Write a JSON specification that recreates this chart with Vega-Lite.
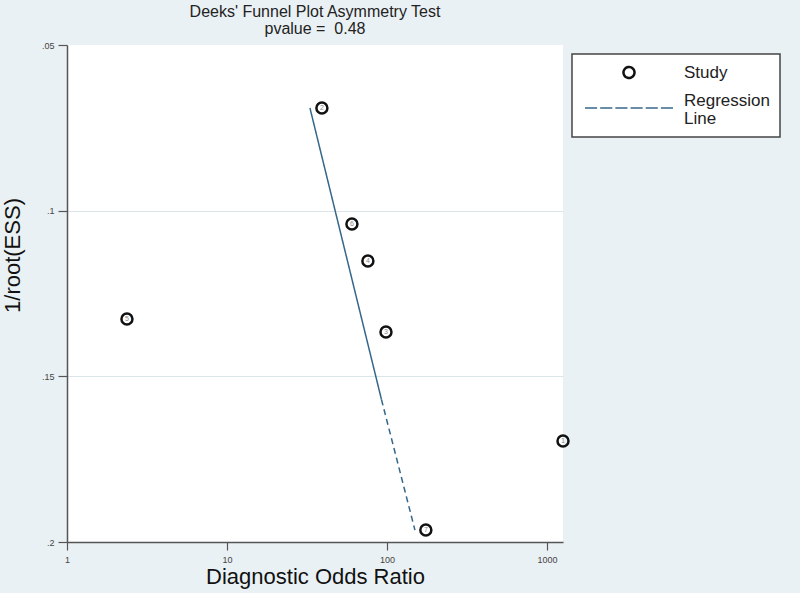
{
  "$schema": "https://vega.github.io/schema/vega-lite/v6.json",
  "width": 496,
  "height": 497,
  "autosize": {"type": "none"},
  "padding": {"left": 67, "top": 45, "right": 237, "bottom": 51},
  "background": "#eaf1f4",
  "view": {"fill": "white", "stroke": null},
  "config": {
    "font": "Liberation Sans",
    "legend": {
      "orient": "none",
      "legendX": 505,
      "legendY": 9,
      "title": null,
      "strokeColor": "#444444",
      "strokeWidth": 1.5,
      "fillColor": "white",
      "padding": 10,
      "labelFont": "Liberation Sans",
      "labelFontSize": 17,
      "labelColor": "#222222",
      "labelOffset": 85,
      "labelLimit": 300,
      "rowPadding": 8,
      "symbolSize": 121
    }
  },
  "title": {
    "text": ["Deeks' Funnel Plot Asymmetry Test", "pvalue = \u00a00.48"],
    "font": "Liberation Sans",
    "fontSize": 16,
    "fontWeight": "normal",
    "lineHeight": 17,
    "color": "#222222",
    "anchor": "middle",
    "offset": 4
  },
  "datasets": {
    "studies": [
      {"study": "1", "dor": 1260, "ess": 0.1695, "series": "Study"},
      {"study": "2", "dor": 39.2, "ess": 0.069, "series": "Study"},
      {"study": "3", "dor": 98.6, "ess": 0.1366, "series": "Study"},
      {"study": "4", "dor": 76, "ess": 0.1152, "series": "Study"},
      {"study": "5", "dor": 2.37, "ess": 0.1327, "series": "Study"},
      {"study": "6", "dor": 60.4, "ess": 0.104, "series": "Study"},
      {"study": "7", "dor": 175, "ess": 0.1964, "series": "Study"}
    ],
    "reg": [
      {"seg": "a", "ord": 1, "dor": 33.0, "ess": 0.069, "series": "Regression Line"},
      {"seg": "a", "ord": 2, "dor": 92.4, "ess": 0.157, "series": "Regression Line"},
      {"seg": "b", "ord": 1, "dor": 92.4, "ess": 0.157, "series": "Regression Line"},
      {"seg": "b", "ord": 2, "dor": 149.6, "ess": 0.1964, "series": "Regression Line"}
    ]
  },
  "encoding": {
    "x": {
      "field": "dor",
      "type": "quantitative",
      "scale": {"type": "log", "domain": [1, 1260], "nice": false},
      "axis": {
        "title": "Diagnostic Odds Ratio",
        "titleFont": "Liberation Sans",
        "titleFontSize": 22,
        "titleFontWeight": "normal",
        "titleColor": "#111111",
        "titlePadding": 2,
        "values": [1, 10, 100, 1000],
        "format": "d",
        "labelFontSize": 9,
        "labelColor": "#444444",
        "labelPadding": 5,
        "tickSize": 8,
        "tickColor": "#555555",
        "domainColor": "#555555",
        "domainWidth": 1.5,
        "tickWidth": 1.2,
        "grid": false,
        "labelFlush": false
      }
    },
    "y": {
      "field": "ess",
      "type": "quantitative",
      "scale": {"domain": [0.05, 0.2], "reverse": true, "nice": false, "zero": false},
      "axis": {
        "title": "1/root(ESS)",
        "titleFont": "Liberation Sans",
        "titleFontSize": 22,
        "titleFontWeight": "normal",
        "titleColor": "#111111",
        "titleX": -55,
        "titleY": 210,
        "titleBaseline": "middle",
        "titleAlign": "center",
        "titleAngle": -90,
        "values": [0.05, 0.1, 0.15, 0.2],
        "labelExpr": "slice(format(datum.value, '~g'), 1)",
        "labelFontSize": 9,
        "labelColor": "#444444",
        "labelPadding": 4,
        "tickSize": 9,
        "tickColor": "#555555",
        "tickWidth": 1.2,
        "domainColor": "#555555",
        "domainWidth": 1.5,
        "grid": true,
        "gridColor": "#dae5eb",
        "gridWidth": 1,
        "gridOpacity": {"condition": {"test": "datum.value > 0.06 && datum.value < 0.19", "value": 1}, "value": 0},
        "labelFlush": false
      }
    }
  },
  "layer": [
    {
      "data": {"name": "reg"},
      "mark": {"type": "line", "strokeWidth": 1.5},
      "encoding": {
        "stroke": {
          "field": "series",
          "type": "nominal",
          "scale": {"domain": ["Study", "Regression Line"], "range": ["#111111", "#35678a"]},
          "legend": {
            "labelExpr": "datum.label == 'Regression Line' ? ['Regression\u00a0\u00a0\u00a0', 'Line'] : datum.label",
            "symbolType": "circle",
            "encode": {
              "labels": {"update": {"lineHeight": {"value": 18}}},
              "symbols": {
                "update": {
                  "shape": {"signal": "datum.value == 'Study' ? 'M8,0A1,1 0 1,1 6,0A1,1 0 1,1 8,0' : 'M-1,1.35H1.2M1.76,1.35H3.96M4.52,1.35H6.72M7.28,1.35H9.48M10.04,1.35H12.24M12.8,1.35H15'"},
                  "strokeWidth": {"signal": "datum.value == 'Study' ? 2.5 : 1.5"},
                  "fill": {"value": "transparent"},
                  "strokeDash": {"value": [1, 0]},
                  "opacity": {"value": 1}
                }
              }
            }
          }
        },
        "strokeDash": {
          "field": "seg",
          "type": "nominal",
          "scale": {"domain": ["a", "b"], "range": [[1, 0], [6, 4]]},
          "legend": null
        },
        "order": {"field": "ord"}
      }
    },
    {
      "data": {"name": "studies"},
      "mark": {"type": "point", "shape": "circle", "filled": false, "opacity": 1, "size": 121, "strokeWidth": 2.5},
      "encoding": {
        "stroke": {
          "field": "series",
          "type": "nominal",
          "scale": {"domain": ["Study", "Regression Line"], "range": ["#111111", "#35678a"]},
          "legend": {
            "labelExpr": "datum.label == 'Regression Line' ? ['Regression\u00a0\u00a0\u00a0', 'Line'] : datum.label",
            "symbolType": "circle",
            "encode": {
              "labels": {"update": {"lineHeight": {"value": 18}}},
              "symbols": {
                "update": {
                  "shape": {"signal": "datum.value == 'Study' ? 'M8,0A1,1 0 1,1 6,0A1,1 0 1,1 8,0' : 'M-1,1.35H1.2M1.76,1.35H3.96M4.52,1.35H6.72M7.28,1.35H9.48M10.04,1.35H12.24M12.8,1.35H15'"},
                  "strokeWidth": {"signal": "datum.value == 'Study' ? 2.5 : 1.5"},
                  "fill": {"value": "transparent"},
                  "strokeDash": {"value": [1, 0]},
                  "opacity": {"value": 1}
                }
              }
            }
          }
        }
      }
    },
    {
      "data": {"name": "studies"},
      "mark": {"type": "text", "fontSize": 7, "color": "#888888", "font": "Liberation Sans"},
      "encoding": {
        "text": {"field": "study"}
      }
    }
  ]
}
